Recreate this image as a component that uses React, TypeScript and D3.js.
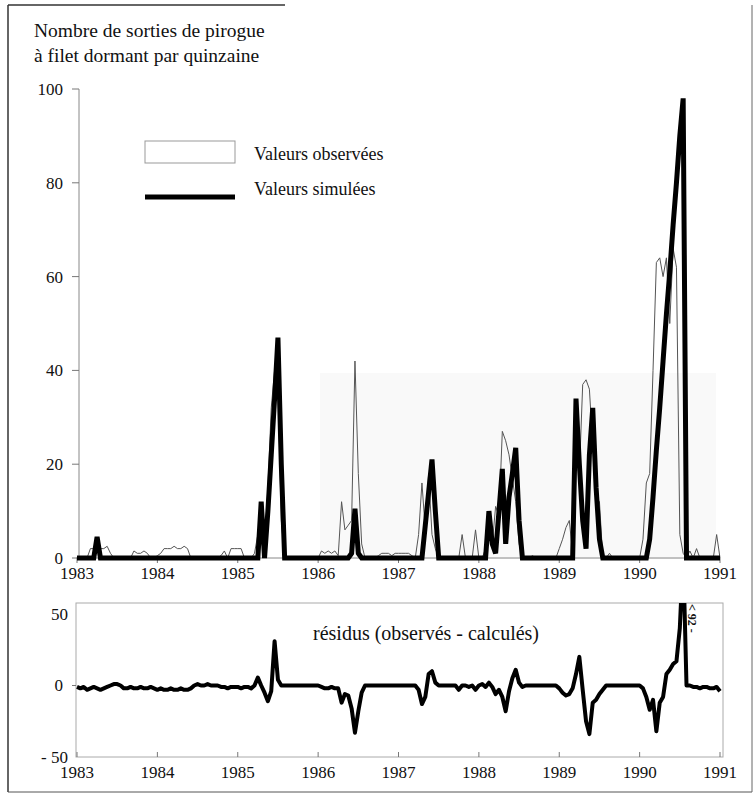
import React from 'react';
import * as d3 from 'd3';

// fortnightly values (24 per year), 1983 -> 1991
const observed = [
  0, 0, 0, 0, 2, 2, 2, 2, 2, 2.5, 1, 0, 0, 0, 0, 0, 0, 1.5, 1, 1, 1.5, 1, 0, 0, // 1983
  0.5, 1, 2, 2, 2, 2.5, 2, 2, 2.5, 2, 0, 0, 0, 0, 0, 0, 0, 0, 0, 0.5, 1.5, 0, 2, 2, // 1984
  2, 2, 0, 0, 0, 1, 5, 10, 3, 15, 32, 40, 38, 8, 0, 0, 0, 0, 0, 0, 0, 0, 0, 0, // 1985
  0, 1.5, 1, 1.5, 1, 1.5, 0.5, 12, 6, 7, 8, 42, 18, 3, 0, 0, 0, 0, 0.5, 1, 1, 1, 0.5, 1, // 1986
  1, 1, 1, 1, 0.5, 0, 5, 16, 6, 18, 5, 2, 0, 0, 0, 0, 0, 0, 0, 5, 0, 0, 0, 6, // 1987
  0, 0, 2, 8, 3, 11, 9, 27, 25, 22, 17, 12, 3, 0, 0, 0, 0.5, 0, 0, 0, 0, 0, 0, 0, // 1988
  2, 4, 6.5, 8, 1, 33, 18, 37, 38, 36, 24, 13, 12, 0, 0, 1, 0, 0, 0, 0, 0, 0, 0, 0, // 1989
  0, 4, 16, 18, 40, 63, 64, 60, 64, 50, 66, 62, 5, 1, 0, 1.5, 0, 2, 0, 0, 0, 0, 0, 5, // 1990
  0
];

const simulated = [
  0, 0, 0, 0, 0, 0, 4.5, 0, 0, 0, 0, 0, 0, 0, 0, 0, 0, 0, 0, 0, 0, 0, 0, 0,
  0, 0, 0, 0, 0, 0, 0, 0, 0, 0, 0, 0, 0, 0, 0, 0, 0, 0, 0, 0, 0, 0, 0, 0,
  0, 0, 0, 0, 0, 0, 0, 12, 0, 10, 22, 34, 47, 20, 0, 0, 0, 0, 0, 0, 0, 0, 0, 0,
  0, 0, 0, 0, 0, 0, 0, 0, 0, 0, 1, 10.5, 1, 0, 0, 0, 0, 0, 0, 0, 0, 0, 0, 0,
  0, 0, 0, 0, 0, 0, 0, 0, 7, 14, 21, 10, 0, 0, 0, 0, 0, 0, 0, 0, 0, 0, 0, 0,
  0, 0, 0, 10, 3, 1, 10, 19, 3, 13, 18, 23.5, 8, 0, 0, 0, 0, 0, 0, 0, 0, 0, 0, 0,
  0, 0, 0, 0, 0, 34, 20, 8, 2, 22, 32, 15, 4, 0, 0, 0, 0, 0, 0, 0, 0, 0, 0, 0,
  0, 0, 0, 4, 13, 23, 32, 42, 52, 61, 71, 80, 90, 98, 0, 0, 0, 0, 0, 0, 0, 0, 0, 0,
  0
];

const residuals = [
  -1, -2, -1, -3, -2, -1, -2, -3, -2, -1, 0, 1, 1, 0, -2, -2, -1, -2, -2, -1, -2, -2, -1, -2,
  -3, -2, -3, -3, -2, -3, -3, -2, -3, -3, -2, 0, 1, 0, 0, 1, 0, 0, 0, -1, -1, -2, -1, -1,
  -1, -2, -1, -1, -2, 0, 5.5, 0, -5, -11, -4, 31, 4, 0, 0, 0, 0, 0, 0, 0, 0, 0, 0, 0,
  0, -1, -2, -2, -1, -2, -2, -12, -6, -7, -16, -33, -18, -5, 0, 0, 0, 0, 0, 0, 0, 0, 0, 0,
  0, 0, 0, 0, 0, 0, -3, -13, -8, 8, 10, 2, 0, 0, 0, 0, 0, 0, -3, 0, 0, -1, 0, -3,
  0, 1, -1, 2, -1, -6, -3, -8, -18, -4, 5, 11, 2, -1, 0, 0, 0, 0, 0, 0, 0, 0, 0, 0,
  -2, -5, -7, -6, -2, 8, 20, -3, -25, -34, -12, -10, -6, -3, 0, 0, 0, 0, 0, 0, 0, 0, 0, 0,
  0, -2, -8, -17, -10, -32, -12, -8, 8, 11, 15, 17, 40, 92, 0, 0, -1, -1, -2, -1, -1, -2, -2, -1,
  -4
];

const years = [1983, 1984, 1985, 1986, 1987, 1988, 1989, 1990, 1991];
const mainTicks = [0, 20, 40, 60, 80, 100];
const resTicks = [50, 0, -50];

const FONT = '"Liberation Serif", "DejaVu Serif", serif';

export default function App() {
  const x = d3.scaleLinear().domain([1983, 1991]).range([77, 720]);
  const y = d3.scaleLinear().domain([0, 100]).range([558, 89]);
  const yr = d3.scaleLinear().domain([-50, 50]).range([757, 614]);
  const date = (i: number) => 1983 + i / 24;

  const lineMain = d3.line<number>().x((d, i) => x(date(i))).y(d => y(d));
  const lineRes = d3.line<number>().x((d, i) => x(date(i))).y(d => yr(d));

  const boxTop = 603;
  const boxBottom = 757;

  return (
    <svg width={756} height={798} style={{ position: 'absolute', left: 0, top: 0, background: '#fff' }}
      fontFamily={FONT} fill="#111">
      <defs>
        <clipPath id="resClip">
          <rect x={72} y={boxTop} width={660} height={boxBottom - boxTop} />
        </clipPath>
      </defs>

      {/* outer frame */}
      <line x1={8} y1={5} x2={285} y2={5} stroke="#333" strokeWidth={1.5} />
      <line x1={8} y1={5} x2={8} y2={792} stroke="#333" strokeWidth={1.5} />
      <line x1={8} y1={792} x2={752} y2={792} stroke="#555" strokeWidth={1} />
      <line x1={752} y1={5} x2={752} y2={792} stroke="#666" strokeWidth={1} />

      {/* faint scan shading */}
      <rect x={320} y={373} width={396} height={186} fill="#f9f9f9" />

      {/* title */}
      <text x={34} y={37} fontSize={19.5}>Nombre de sorties de pirogue</text>
      <text x={34} y={62} fontSize={19.5}>à filet dormant par quinzaine</text>

      {/* main y axis */}
      <line x1={79} y1={y(100)} x2={79} y2={y(0)} stroke="#888" strokeWidth={1} />
      {mainTicks.map(v => (
        <g key={v}>
          <line x1={72} x2={79} y1={y(v)} y2={y(v)} stroke="#777" />
          <text x={63} y={y(v)} dy="0.35em" textAnchor="end" fontSize={17}>{v}</text>
        </g>
      ))}

      {/* main x axis */}
      <line x1={76} x2={720} y1={y(0)} y2={y(0)} stroke="#888" />
      {years.map(v => (
        <g key={v}>
          <line x1={x(v)} x2={x(v)} y1={y(0)} y2={y(0) + 5} stroke="#777" />
          <text x={x(v)} y={579} textAnchor="middle" fontSize={17}>{v}</text>
        </g>
      ))}

      {/* series */}
      <path d={lineMain(observed) || ''} fill="none" stroke="#555" strokeWidth={1} />
      <path d={lineMain(simulated) || ''} fill="none" stroke="#000" strokeWidth={5} />

      {/* legend */}
      <rect x={145} y={141} width={90} height={22} fill="none" stroke="#999" strokeWidth={1} />
      <text x={254} y={160} fontSize={18}>Valeurs observées</text>
      <line x1={145} x2={235} y1={197} y2={197} stroke="#000" strokeWidth={5} />
      <text x={254} y={195} fontSize={18}>Valeurs simulées</text>

      {/* residuals panel */}
      <rect x={76} y={boxTop} width={647} height={boxBottom - boxTop} fill="none" stroke="#aaa" strokeWidth={1} />
      <line x1={72} x2={76} y1={yr(0)} y2={yr(0)} stroke="#777" />
      {resTicks.map(v => (
        <text key={v} x={v === 0 ? 63 : 68} y={yr(v)} dy="0.35em" textAnchor="end" fontSize={17}>
          {v < 0 ? '- ' + Math.abs(v) : v}
        </text>
      ))}
      {years.map(v => (
        <g key={v}>
          <line x1={x(v)} x2={x(v)} y1={boxBottom} y2={boxBottom - 5} stroke="#777" />
          <text x={x(v)} y={778} textAnchor="middle" fontSize={17}>{v}</text>
        </g>
      ))}
      <text x={313} y={640} fontSize={20}>résidus (observés - calculés)</text>
      <g clipPath="url(#resClip)">
        <path d={lineRes(residuals) || ''} fill="none" stroke="#000" strokeWidth={4} strokeLinejoin="round" />
      </g>
      <text transform="translate(688,604) rotate(90)" fontSize={12} fontWeight="bold">{'< 92 -'}</text>
    </svg>
  );
}
